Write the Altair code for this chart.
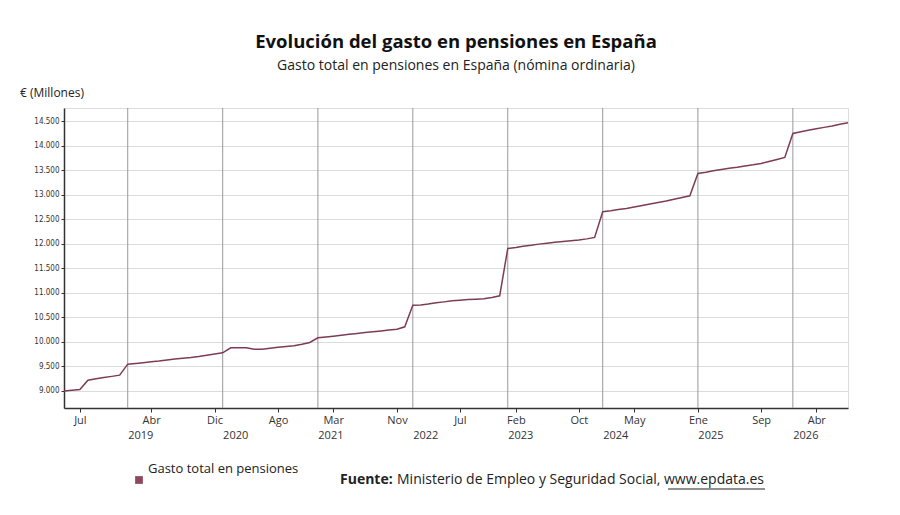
import altair as alt
import pandas as pd

months = pd.date_range("2018-05-01", "2026-08-01", freq="MS")
values = [
    8995, 9010, 9027, 9218, 9245, 9270, 9295, 9320,
    9544, 9560, 9575, 9595, 9610, 9630, 9650, 9665, 9680, 9700, 9725, 9750,
    9775, 9878, 9880, 9878, 9850, 9850, 9870, 9890, 9905, 9918, 9950, 9986,
    10082, 10100, 10116, 10135, 10155, 10172, 10190, 10205, 10222, 10240, 10258, 10306,
    10748, 10750, 10770, 10796, 10815, 10837, 10850, 10862, 10870, 10878, 10905, 10939,
    11905, 11925, 11950, 11970, 11993, 12010, 12030, 12045, 12060, 12075, 12100, 12129,
    12653, 12675, 12700, 12720, 12750, 12780, 12810, 12840, 12871, 12910, 12945, 12980,
    13435, 13460, 13490, 13515, 13540, 13560, 13585, 13610, 13639, 13680, 13720, 13762,
    14252, 14285, 14315, 14345, 14375, 14405, 14440, 14469,
]
tick_dates = ["2018-07-01", "2019-04-01", "2019-12-01", "2020-08-01", "2021-03-01",
              "2021-11-01", "2022-07-01", "2023-02-01", "2023-10-01", "2024-05-01",
              "2025-01-01", "2025-09-01", "2026-04-01"]
years = [2019, 2020, 2021, 2022, 2023, 2024, 2025, 2026]

df = pd.DataFrame({"date": months.strftime("%Y-%m-%d"), "value": values})
ydf = pd.DataFrame({"date": [f"{y}-01-01" for y in years],
                    "lab": [f"{y}-02-20" for y in years],
                    "year": [str(y) for y in years]})

W, H = 784, 300
FONT = "Open Sans"
xscale = alt.Scale(type="utc", domain=[alt.DateTime(year=2018, month=5, date=1, utc=True),
                                       alt.DateTime(year=2026, month=8, date=1, utc=True)])
tick_vals = [alt.DateTime(year=int(d[:4]), month=int(d[5:7]), date=1, utc=True) for d in tick_dates]
mnames = "['Ene','Feb','Mar','Abr','May','Jun','Jul','Ago','Sep','Oct','Nov','Dic']"

line = alt.Chart(df).mark_line(color="#7d3c55", strokeWidth=1.5).encode(
    x=alt.X("date:T", scale=xscale,
            axis=alt.Axis(values=tick_vals, labelExpr=f"{mnames}[utcmonth(datum.value)]",
                          title=None, grid=False, domainColor="#333", domainWidth=1.5,
                          tickColor="#333", labelFont=FONT, labelFontSize=11,
                          labelColor="#333", tickSize=4, labelPadding=2)),
    y=alt.Y("value:Q", scale=alt.Scale(domain=[8650, 14770], nice=False, zero=False),
            axis=alt.Axis(values=list(range(9000, 15000, 500)),
                          labelExpr="replace(format(datum.value, ',.0f'), ',', '.')",
                          title=None, gridColor="#dcdcdc", domainColor="#333",
                          domainWidth=1.5, tickColor="#333", tickSize=3,
                          labelFont="DejaVu Sans Condensed", labelFontSize=8,
                          labelColor="#333")),
)
rules = alt.Chart(ydf).mark_rule(color="#999", strokeWidth=1).encode(
    x=alt.X("date:T", scale=xscale))
ylabels = alt.Chart(ydf).mark_text(font=FONT, fontSize=11, color="#333", baseline="middle").encode(
    x=alt.X("lab:T", scale=xscale), y=alt.value(H + 28), text="year:N")

def txt(t, x, y, **kw):
    return alt.Chart(pd.DataFrame({"t": [t]})).mark_text(font=FONT, align="left", baseline="middle", **kw).encode(
        x=alt.value(x), y=alt.value(y), text="t:N")

ox, oy = 64, 108
ann = [
    txt("€ (Millones)", 20 - ox, 93 - oy, fontSize=12, color="#222"),
    txt("Gasto total en pensiones", 148 - ox, 469 - oy, fontSize=13, color="#222"),
    txt("Fuente:", 340 - ox, 480 - oy, fontSize=14, fontWeight="bold", color="#222"),
    txt("Ministerio de Empleo y Seguridad Social, www.epdata.es", 397 - ox, 480 - oy, fontSize=14, color="#222"),
]
sq = alt.Chart(pd.DataFrame({"a": [1]})).mark_square(color="#8c4a62", size=60, opacity=1).encode(
    x=alt.value(139 - ox), y=alt.value(480 - oy))
underline = alt.Chart(pd.DataFrame({"a": [1]})).mark_rule(color="#222").encode(
    x=alt.value(668 - ox), x2=alt.value(765 - ox), y=alt.value(489 - oy))

chart = alt.layer(rules, line, ylabels, sq, underline, *ann).properties(
    width=W, height=H,
    title=alt.TitleParams("Evolución del gasto en pensiones en España",
                          subtitle="Gasto total en pensiones en España (nómina ordinaria)",
                          font=FONT, fontSize=18.5, fontWeight="bold", color="#111",
                          subtitleFont=FONT, subtitleFontSize=14, subtitleColor="#222",
                          anchor="middle", offset=14, subtitlePadding=8),
    autosize=alt.AutoSizeParams(type="none"),
    padding={"left": 56, "top": 100, "right": 44, "bottom": 99},
).configure_view(fill="#f7f7f7", stroke=None).configure(background="white")

chart.save("out.html", embed_options={"renderer": "svg", "actions": False})
